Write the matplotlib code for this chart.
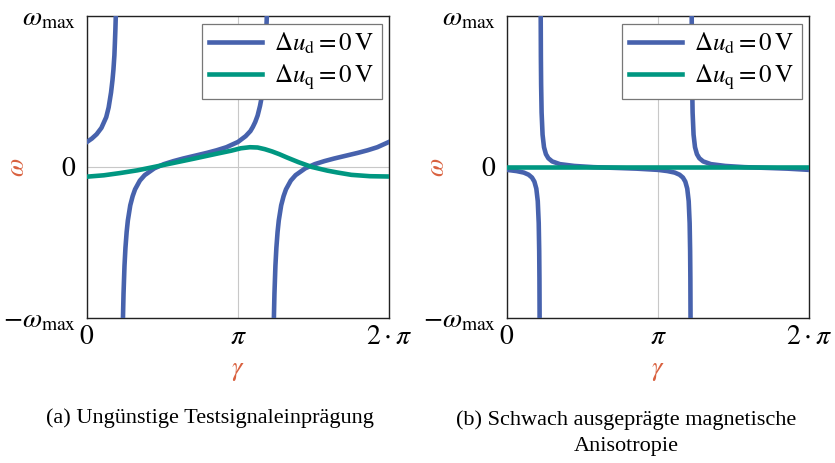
import numpy as np
import matplotlib
matplotlib.use('Agg')
import matplotlib.pyplot as plt

plt.rcParams['font.family'] = ['Liberation Serif', 'DejaVu Serif']
plt.rcParams['mathtext.fontset'] = 'stix'

# (a) Ungünstige Testsignaleinprägung, omega normalised to omega_max
gam_a_d1 = [0.0, 0.1, 0.2, 0.3, 0.4, 0.45, 0.5, 0.53, 0.55, 0.57, 0.58, 0.59, 0.6, 0.61, 0.62]
om_a_d1 = [0.166, 0.188, 0.217, 0.259, 0.330, 0.394, 0.493, 0.575, 0.645, 0.74, 0.819,
           0.905, 1.01, 1.15, 1.33]

gam_a_d2 = [0.74, 0.75, 0.76, 0.78, 0.8, 0.825, 0.85, 0.9, 0.95, 1.0, 1.1, 1.2, 1.4,
            1.6, 1.8, 2.0, 2.25, 2.5, 2.7, 2.9, 3.1416, 3.3, 3.4, 3.45, 3.5, 3.55,
            3.6, 3.63, 3.65, 3.68, 3.7, 3.72, 3.74, 3.76]
om_a_d2 = [-1.14, -0.975, -0.839, -0.655, -0.535, -0.43, -0.354, -0.254, -0.193,
           -0.148, -0.090, -0.054, -0.009, 0.019, 0.039, 0.056, 0.075, 0.094, 0.111,
           0.131, 0.166, 0.204, 0.238, 0.265, 0.298, 0.341, 0.405, 0.455, 0.504,
           0.60, 0.685, 0.81, 0.989, 1.29]

gam_a_d3 = [3.88, 3.89, 3.90, 3.92, 3.94, 3.965, 3.99, 4.04, 4.09, 4.14, 4.24, 4.34,
            4.54, 4.74, 4.94, 5.14, 5.39, 5.64, 5.84, 6.04, 6.2832]
om_a_d3 = [-1.14, -0.975, -0.839, -0.655, -0.535, -0.43, -0.354, -0.254, -0.193,
           -0.148, -0.090, -0.054, -0.009, 0.019, 0.039, 0.056, 0.075, 0.094, 0.111,
           0.131, 0.166]

gam_a_q = [0.0, 0.35, 0.69, 1.05, 1.39, 1.8, 2.22, 2.7, 3.0, 3.2, 3.39, 3.55, 3.7,
           3.85, 4.0, 4.16, 4.4, 4.68, 5.0, 5.2, 5.5, 5.89, 6.2832]
om_a_q = [-0.064, -0.055, -0.040, -0.022, 0.0, 0.027, 0.055, 0.088, 0.108, 0.124,
          0.131, 0.129, 0.118, 0.103, 0.085, 0.063, 0.032, 0.0, -0.024, -0.036,
          -0.052, -0.061, -0.063]

# (b) Schwach ausgeprägte magnetische Anisotropie
gam_b_d1 = [0.0, 0.2, 0.35, 0.45, 0.52, 0.57, 0.61, 0.64, 0.66, 0.67, 0.675, 0.68, 0.683]
om_b_d1 = [-0.019, -0.027, -0.037, -0.051, -0.070, -0.097, -0.143, -0.226, -0.372,
           -0.556, -0.74, -1.106, -1.58]

gam_b_d2 = [0.697, 0.70, 0.705, 0.71, 0.72, 0.74, 0.77, 0.81, 0.86, 0.94, 1.1, 1.4,
            1.8, 2.26, 2.7, 3.14, 3.34, 3.49, 3.59, 3.66, 3.71, 3.75, 3.78, 3.80,
            3.81, 3.815, 3.82, 3.823]
om_b_d2 = [1.565, 1.094, 0.727, 0.544, 0.360, 0.214, 0.131, 0.085, 0.058, 0.037,
           0.019, 0.007, -0.001, -0.006, -0.011, -0.019, -0.027, -0.037, -0.051,
           -0.070, -0.097, -0.143, -0.226, -0.372, -0.556, -0.74, -1.106, -1.58]

gam_b_d3 = [3.8386, 3.8416, 3.8466, 3.8516, 3.8616, 3.8816, 3.9116, 3.9516, 4.0016,
            4.0816, 4.2416, 4.5416, 4.9416, 5.4016, 5.8416, 6.2832]
om_b_d3 = [1.565, 1.094, 0.727, 0.544, 0.360, 0.214, 0.131, 0.085, 0.058, 0.037,
           0.019, 0.007, -0.001, -0.006, -0.011, -0.019]

gam_b_q = [0.0, 1.0, 2.0, 3.14, 4.0, 5.0, 6.2832]
om_b_q = [0.003, 0.003, 0.003, 0.003, 0.003, 0.003, 0.003]

xticks = [0, np.pi, 2 * np.pi]
xticklabels = ['$0$', r'$\pi$', r'$2\cdot\pi$']
yticks = [-1, 0, 1]
yticklabels = [r'$-\omega_\mathrm{max}$', '$0$', r'$\omega_\mathrm{max}$']

captions = ['(a) Ungünstige Testsignaleinprägung',
            '(b) Schwach ausgeprägte magnetische\nAnisotropie']

blue = '#4762ad'
green = '#009781'
red = '#d9613f'

fig = plt.figure(figsize=(8.35, 4.63), dpi=100)
ax_a = fig.add_axes([87 / 835, 145 / 463, 302 / 835, 302 / 463])
ax_b = fig.add_axes([507 / 835, 145 / 463, 302 / 835, 302 / 463])

panels = [
    (ax_a, [(gam_a_d1, om_a_d1), (gam_a_d2, om_a_d2), (gam_a_d3, om_a_d3)], (gam_a_q, om_a_q)),
    (ax_b, [(gam_b_d1, om_b_d1), (gam_b_d2, om_b_d2), (gam_b_d3, om_b_d3)], (gam_b_q, om_b_q)),
]

for ax, d_branches, q_curve in panels:
    for i, (g, w) in enumerate(d_branches):
        ax.plot(g, w, color=blue, lw=3.3, solid_joinstyle='round',
                label=r'$\Delta u_\mathrm{d} = 0\,\mathrm{V}$' if i == 0 else None, zorder=3)
    ax.plot(q_curve[0], q_curve[1], color=green, lw=3.3, solid_joinstyle='round',
            label=r'$\Delta u_\mathrm{q} = 0\,\mathrm{V}$', zorder=4)

    ax.set_xlim(0, 2 * np.pi)
    ax.set_ylim(-1, 1)
    ax.set_xticks(xticks)
    ax.set_xticklabels(xticklabels, fontsize=20)
    ax.set_yticks(yticks)
    ax.set_yticklabels(yticklabels, fontsize=20)
    ax.tick_params(axis='y', length=0, pad=8)
    ax.tick_params(axis='x', length=0, pad=5)
    ax.grid(True, color='#c8c8c8', lw=0.8)
    ax.set_axisbelow(True)
    for s in ax.spines.values():
        s.set_linewidth(1.0)
        s.set_color('#222222')

    ax.set_xlabel(r'$\gamma$', color=red, fontsize=19, va='center')
    ax.set_ylabel(r'$\omega$', color=red, fontsize=19, va='center')
    ax.xaxis.set_label_coords(0.5, -0.18)
    ax.yaxis.set_label_coords(-0.228, 0.5)

    leg = ax.legend(loc='upper right', fontsize=18, fancybox=False, framealpha=1,
                    edgecolor='#777777', handlelength=2.1, borderaxespad=0.3,
                    labelspacing=0.25, borderpad=0.3, handletextpad=0.5)
    leg.get_frame().set_linewidth(0.9)

fig.text(210 / 835, 1 - 418 / 463, captions[0], ha='center', va='center', fontsize=16)
fig.text(626 / 835, 1 - 433 / 463, captions[1], ha='center', va='center', fontsize=16,
         linespacing=1.55)

fig.savefig('out.png', dpi=100)
